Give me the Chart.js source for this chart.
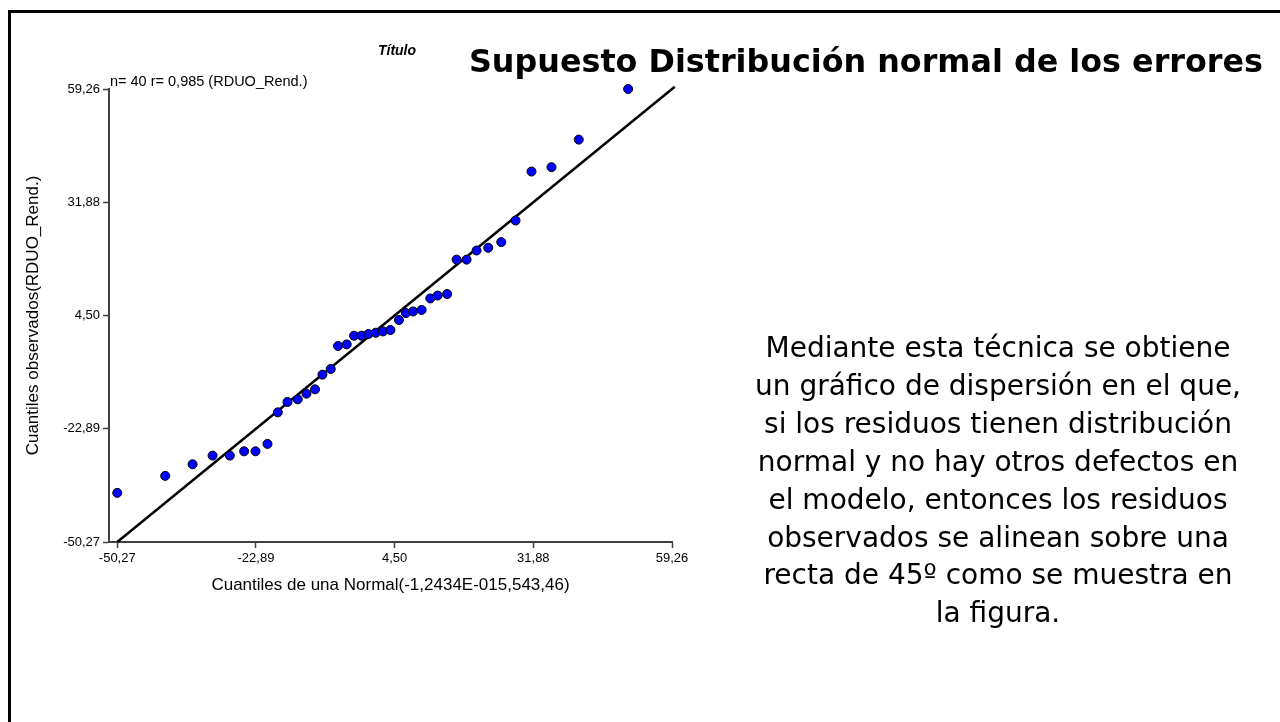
<!DOCTYPE html>
<html>
<head>
<meta charset="utf-8">
<script src="https://cdn.jsdelivr.net/npm/chart.js@4"></script>
<style>
  html, body { margin: 0; padding: 0; background: #fff; width: 1280px; height: 722px; overflow: hidden; }
  .marco { position: absolute; left: 8px; top: 10px; width: 1280px; height: 722px; border-top: 3px solid #000; border-left: 3px solid #000; }
  #grafico { position: absolute; left: 0; top: 0; }
  .titulo { position: absolute; left: 416px; top: 42px; width: 900px; text-align: center; font: bold 31.8px "DejaVu Sans", sans-serif; color: #000; white-space: nowrap; }
  .subtitulo { position: absolute; left: 357px; top: 42px; width: 80px; text-align: center; font: italic bold 14px "Liberation Sans", Arial, sans-serif; }
  .resumen { position: absolute; left: 110px; top: 73px; font: 14.5px "Liberation Sans", Arial, sans-serif; white-space: nowrap; }
  .texto { position: absolute; left: 698px; top: 329px; width: 600px; text-align: center; font: 28px "DejaVu Sans", sans-serif; line-height: 37.9px; white-space: nowrap; }
</style>
</head>
<body>
<div class="marco"></div>
<canvas id="grafico" width="720" height="620"></canvas>
<div class="subtitulo">Título</div>
<div class="titulo">Supuesto Distribución normal de los errores</div>
<div class="resumen">n= 40 r= 0,985 (RDUO_Rend.)</div>
<div class="texto">Mediante esta técnica se obtiene<br>un gráfico de dispersión en el que,<br>si los residuos tienen distribución<br>normal y no hay otros defectos en<br>el modelo, entonces los residuos<br>observados se alinean sobre una<br>recta de 45º como se muestra en<br>la figura.</div>
<script>
// cuantiles teoricos (eje x) y observados (eje y)
const cuantilesNormal = [-50.27, -40.80, -35.40, -31.45, -28.04, -25.22, -22.97, -20.61, -18.57, -16.66,
    -14.63, -12.91, -11.22, -9.76, -8.12, -6.68, -4.96, -3.52, -2.06, -0.68,
    0.76, 2.20, 3.66, 5.35, 6.73, 8.15, 9.83, 11.54, 12.98, 14.86,
    16.73, 18.70, 20.68, 22.98, 25.55, 28.37, 31.52, 35.47, 40.85, 50.60];
const cuantilesObservados = [-38.39, -34.28, -31.48, -29.38, -29.38, -28.34, -28.34, -26.55, -18.92, -16.41,
    -15.78, -14.40, -13.36, -9.81, -8.43, -2.88, -2.49, -0.39, -0.39, 0.02,
    0.33, 0.65, 0.99, 3.40, 5.09, 5.48, 5.84, 8.62, 9.32, 9.68,
    18.00, 18.00, 20.21, 20.87, 22.24, 27.46, 39.30, 40.36, 47.02, 59.26];
const recta45 = [-50.27, 59.8];
const marcasX = [-50.27, -22.89, 4.50, 31.88, 59.26];
const marcasY = [-50.27, -22.89, 4.50, 31.88, 59.26];

const puntos = cuantilesNormal.map((x, i) => ({ x: x, y: cuantilesObservados[i] }));
const linea = recta45.map(v => ({ x: v, y: v }));
const formato = v => Number(v).toFixed(2).replace(".", ",");
const fuente = { family: "'Liberation Sans', Arial, sans-serif", size: 13 };
const fuenteTitulo = { family: "'Liberation Sans', Arial, sans-serif", size: 17 };

new Chart(document.getElementById("grafico"), {
    type: "scatter",
    data: {
        datasets: [
            {
                data: puntos,
                order: 0,
                backgroundColor: "#0000ff",
                borderColor: "#000",
                borderWidth: 1,
                pointRadius: 4.5,
                clip: false
            },
            {
                data: linea,
                order: 1,
                showLine: true,
                borderColor: "#000",
                borderWidth: 2.5,
                pointRadius: 0,
                clip: false
            }
        ]
    },
    options: {
        responsive: false,
        animation: false,
        devicePixelRatio: 1,
        layout: { padding: { left: 0, top: 89, right: 48, bottom: 18 } },
        plugins: { legend: { display: false }, tooltip: { enabled: false } },
        scales: {
            x: {
                type: "linear",
                min: -51.9,
                max: 59.26,
                afterBuildTicks: eje => { eje.ticks = marcasX.map(v => ({ value: v })); },
                afterFit: eje => { eje.height = 60; },
                ticks: { callback: formato, color: "#000", font: fuente, padding: 3, maxRotation: 0 },
                grid: { drawOnChartArea: false, drawTicks: true, tickLength: 6, tickColor: "#404040", tickWidth: 1.5 },
                border: { display: true, color: "#404040", width: 2 },
                title: { display: true, text: "Cuantiles de una Normal(-1,2434E-015,543,46)", color: "#000", font: fuenteTitulo, padding: { top: 0, bottom: 6 } }
            },
            y: {
                type: "linear",
                min: -50.27,
                max: 59.26,
                afterBuildTicks: eje => { eje.ticks = marcasY.map(v => ({ value: v })); },
                afterFit: eje => { eje.width = 109; },
                ticks: { callback: formato, color: "#000", font: fuente, padding: 3 },
                grid: { drawOnChartArea: false, drawTicks: true, tickLength: 6, tickColor: "#404040", tickWidth: 1.5 },
                border: { display: true, color: "#404040", width: 2 },
                title: { display: true, text: "Cuantiles observados(RDUO_Rend.)", color: "#000", font: fuenteTitulo, padding: { top: 23, bottom: 0 } }
            }
        }
    }
});
</script>
</body>
</html>
